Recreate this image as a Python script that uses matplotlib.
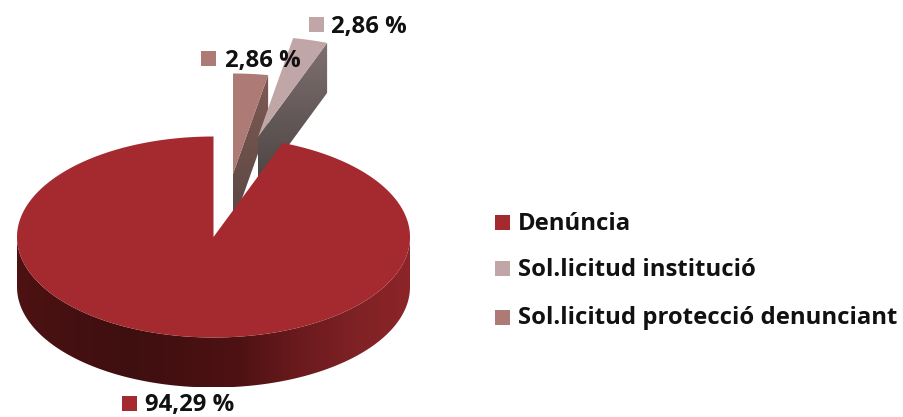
import numpy as np
import matplotlib
matplotlib.use("Agg")
import matplotlib.pyplot as plt
from matplotlib.patches import Polygon, Rectangle
from matplotlib.colors import LinearSegmentedColormap

categories = ["Denúncia", "Sol.licitud institució", "Sol.licitud protecció denunciant"]
values = [94.29, 2.86, 2.86]
top_colors = ["#a52a2f", "#c0a6a6", "#ad7a75"]

plt.rcParams['font.family'] = ['Open Sans', 'DejaVu Sans']
W, H = 904, 417
fig = plt.figure(figsize=(W / 100, H / 100), dpi=100, facecolor="white")
ax = fig.add_axes([0, 0, 1, 1])
ax.set_xlim(0, W)
ax.set_ylim(H, 0)
ax.axis("off")

CX, CY, RX, RY, DEPTH = 213.5, 237, 196.5, 100.5, 50
total = sum(values)
sweeps = {c: v / total * 360 for c, v in zip(categories, values)}


def pt(t, ox=0, oy=0, dz=0):
    t = np.radians(t)
    return np.column_stack([CX + ox + RX * np.sin(t), CY + oy - RY * np.cos(t) + dz])


def gradient_poly(poly, stops, horizontal, z):
    xs, ys = poly[:, 0], poly[:, 1]
    cmap = LinearSegmentedColormap.from_list("g", stops)
    grad = np.linspace(0, 1, 256)
    grad = grad[None, :] if horizontal else grad[:, None]
    ext = (xs.min(), xs.max(), ys.max(), ys.min())
    im = ax.imshow(grad, cmap=cmap, extent=ext, aspect="auto", zorder=z,
                   interpolation="bilinear", origin="upper")
    patch = Polygon(poly, closed=True, transform=ax.transData, fc="none", ec="none")
    ax.add_patch(patch)
    im.set_clip_path(patch)


def small_wedge(t0, t1, ox, oy, color, stops, z):
    apex = np.array([[CX + ox, CY + oy]])
    arc = pt(np.linspace(t0, t1, 20), ox, oy)
    face = np.vstack([pt(t1, ox, oy), apex, apex + [0, DEPTH], pt(t1, ox, oy, DEPTH)])
    gradient_poly(face, stops, False, z)
    ax.add_patch(Polygon(np.vstack([apex, arc]), closed=True, fc=color, ec="none", zorder=z + 0.1))


s_prot = sweeps[categories[2]]
s_inst = sweeps[categories[1]]

small_wedge(0, s_prot, 19.5, -63, top_colors[2], ["#7f5a54", "#5a4742"], 2)
small_wedge(s_prot, s_prot + s_inst, 44.5, -100, top_colors[1], ["#7f7070", "#4a4342"], 3)

# main slice
t = np.linspace(s_prot + s_inst, 360, 400)
top = np.vstack([[[CX, CY]], pt(t)])
ts = np.linspace(90, 270, 200)
side = np.vstack([pt(ts), pt(ts[::-1], dz=DEPTH)])
gradient_poly(side, ["#4e1213", "#451011", "#3f0f10", "#461011", "#4f1214", "#6a1a1d", "#7e2125", "#8c2529"], True, 4)
ax.add_patch(Polygon(top, closed=True, fc=top_colors[0], ec="none", zorder=5))

ax.set_xlim(0, W)
ax.set_ylim(H, 0)

FS = 17.2


def marker(x, y, color):
    ax.add_patch(Rectangle((x - 7.5, y - 7.5), 15, 15, fc=color, ec="none", zorder=6))


def fmt(v):
    return f"{v:.2f}".replace(".", ",") + " %"


for v, c, mx, my, tx in zip(values, top_colors, [130, 317, 208.5], [403, 24, 58], [145, 331, 225]):
    marker(mx, my, c)
    ax.text(tx, my + 2.5, fmt(v), fontsize=FS, fontweight="bold", color="#111111",
            va="center", ha="left", zorder=7)

for cat, c, y in zip(categories, top_colors, [222, 268, 317]):
    marker(503, y, c)
    ax.text(518, y + 1.5, cat, fontsize=FS, fontweight="bold", color="#111111",
            va="center", ha="left", zorder=7)

fig.savefig("out.png", dpi=100, facecolor="white")
